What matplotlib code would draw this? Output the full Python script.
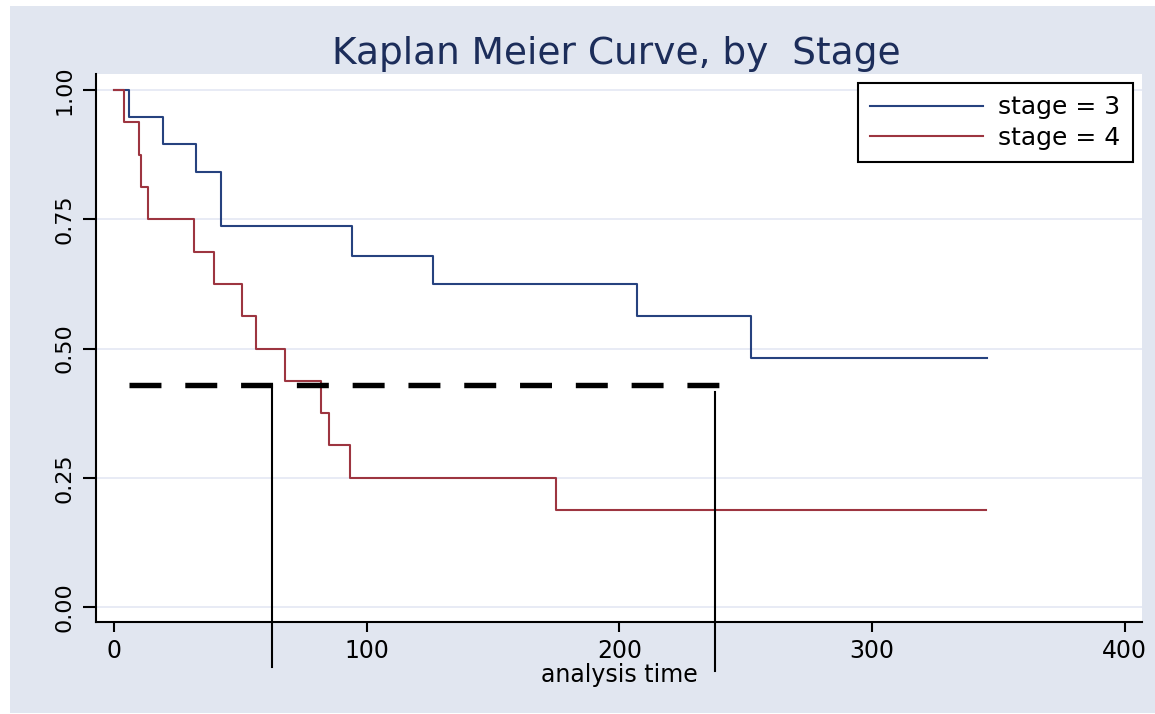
import matplotlib
matplotlib.use("Agg")
import matplotlib.pyplot as plt
from matplotlib.patches import Rectangle

# Kaplan-Meier estimates
stage3_time = [0, 5.9, 19.3, 32.3, 42.3, 94.3, 126.2, 207, 252, 345.5]
stage3_surv = [1.0, 0.947, 0.895, 0.842, 0.737, 0.678, 0.625, 0.563, 0.482, 0.482]

stage4_time = [0, 4.1, 10, 10.7, 13.5, 31.5, 39.7, 50.5, 56.2, 67.8, 81.8, 85.1, 93.4, 175, 345]
stage4_surv = [1.0, 0.9375, 0.875, 0.8125, 0.75, 0.6875, 0.625, 0.5625, 0.5, 0.4375,
               0.375, 0.3125, 0.25, 0.1875, 0.1875]

# reference line at survival 0.43 and the two drop lines
ref_level = 0.43
ref_span = [5.8, 240.2]
drop_times = [62.6, 237.8]
drop_tops = [0.43, 0.416]
drop_bottom = [-0.117, -0.124]

x_ticks = [0, 100, 200, 300, 400]
y_ticks = [0.0, 0.25, 0.5, 0.75, 1.0]
y_ticklabels = ["0.00", "0.25", "0.50", "0.75", "1.00"]

BG = "#e1e6f0"
BLUE = "#26427f"
RED = "#9d3540"

plt.rcParams["font.family"] = ["DejaVu Sans"]

fig = plt.figure(figsize=(11.55, 7.14), dpi=100)
fig.patches.append(Rectangle((10 / 1155, 1 / 714), 1 - 10 / 1155, (714 - 7) / 714,
                             transform=fig.transFigure, facecolor=BG, edgecolor="none",
                             zorder=-10))

ax = fig.add_axes([96 / 1155, 92 / 714, 1046 / 1155, 548 / 714])
ax.set_facecolor("white")

for y in y_ticks:
    ax.axhline(y, color="#e4e8f3", lw=1.2, zorder=0)

ax.step(stage3_time, stage3_surv, where="post", color=BLUE, lw=1.5, label="stage = 3")
ax.step(stage4_time, stage4_surv, where="post", color=RED, lw=1.5, label="stage = 4")

ax.plot(ref_span, [ref_level, ref_level], color="black", lw=3.9, dashes=(5.9, 4.4),
        solid_capstyle="butt", dash_capstyle="butt")
for t, top, bot in zip(drop_times, drop_tops, drop_bottom):
    ax.plot([t, t], [top, bot], color="black", lw=1.5, clip_on=False)

ax.set_xlim(-7.1, 406.8)
ax.set_ylim(-0.029, 1.031)

for side in ("top", "right"):
    ax.spines[side].set_visible(False)
for side in ("left", "bottom"):
    ax.spines[side].set_linewidth(1.5)

ax.set_xticks(x_ticks)
ax.set_yticks(y_ticks)
ax.set_yticklabels(y_ticklabels, rotation=90, va="center")
ax.tick_params(axis="x", length=7.5, width=1.5, pad=5, labelsize=17)
ax.tick_params(axis="y", length=9.5, width=1.5, pad=6, labelsize=16)

ax.set_xlabel("analysis time", fontsize=17, labelpad=0)
fig.text(616 / 1155, 1 - 64 / 714, "Kaplan Meier Curve, by  Stage", fontsize=27,
         color="#1c2d5a", ha="center", va="baseline")

leg = ax.legend(loc="upper right", bbox_to_anchor=(0.991, 0.9836), fontsize=18,
                handlelength=4.5, frameon=True, fancybox=False, framealpha=1,
                edgecolor="black", borderpad=0.5, labelspacing=0.25, handletextpad=0.6,
                borderaxespad=0)
leg.get_frame().set_linewidth(1.5)

fig.savefig("out.png", dpi=100)
